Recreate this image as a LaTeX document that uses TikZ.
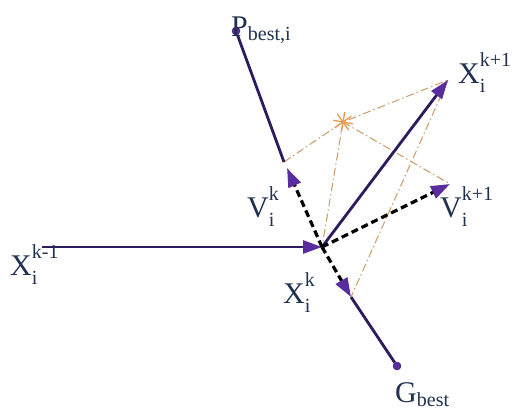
\documentclass[tikz,border=0pt]{standalone}
\usepackage{fontspec}
\setmainfont{Liberation Serif}
\usetikzlibrary{arrows.meta, calc}

\definecolor{vecdark}{HTML}{2E1A5E}
\definecolor{vectip}{HTML}{5A2D9E}
\definecolor{labtext}{HTML}{1F3050}
\definecolor{guidecol}{HTML}{C89A64}
\definecolor{starcol}{HTML}{E89A50}

\newcommand{\scr}{\fontsize{20}{20}\selectfont}
\newcommand{\pvec}[3]{#1\rlap{\raisebox{-0.33em}{\scr #2}}\raisebox{0.55em}{\scr #3}}

\tikzset{
  tip/.style={-{Triangle[length=19pt, width=13pt, color=vectip]}},
  vecline/.style={draw=vecdark, line width=2.8pt},
  dashvec/.style={draw=black, line width=3.2pt, dash pattern=on 7pt off 4pt},
  guide/.style={draw=guidecol, line width=1pt,
                dash pattern=on 8pt off 3pt on 1.5pt off 3pt},
  dot/.style={circle, fill=vectip, draw=vecdark, inner sep=0pt, minimum size=8pt},
  lab/.style={anchor=base west, inner sep=0pt, text=labtext,
              font=\fontsize{30}{30}\selectfont},
}

\begin{document}
\begin{tikzpicture}[x=1pt, y=-1pt]
  \useasboundingbox (0,0) rectangle (516,410);

  % points of the update
  \coordinate (O)     at (322,247);
  \coordinate (Xprev) at (42,247);
  \coordinate (Xnext) at (448,80);
  \coordinate (Vk)    at (287,168);
  \coordinate (Vnext) at (450,184);
  \coordinate (Xk)    at (351,297);
  \coordinate (A)     at (284,162);
  \coordinate (S)     at (343,122);
  \node[dot] (P) at (236,31) {};
  \node[dot] (G) at (397,366) {};

  % construction lines
  \draw[guide] (A) -- (S) -- (Xnext);
  \draw[guide] (S) -- (Vnext);
  \draw[guide] (S) -- (O);
  \draw[guide] (Xnext) -- (Xk);
  \foreach \a in {10,55,100,145}
    \draw[draw=starcol, line width=1.3pt] ($(S)+(\a:10)$) -- ($(S)+(\a+180:10)$);

  % vectors
  \draw[vecline] (P) -- (A);
  \draw[vecline] (Xk) -- (G);
  \draw[vecline, tip] (Xprev) -- (O);
  \draw[vecline, tip] (O) -- (Xnext);
  \draw[dashvec, tip] (O) -- (Vk);
  \draw[dashvec, tip] (O) -- (Vnext);
  \draw[dashvec, tip] (O) -- (Xk);

  % labels
  \node[lab] (lPbest) at (231,36)  {P\raisebox{-0.15em}{\scr best,i}};
  \node[lab] (lXnext) at (458,83)  {\pvec{X}{i}{k+1}};
  \node[lab] (lVk)    at (247,217) {\pvec{V}{i}{k}};
  \node[lab] (lVnext) at (440,217) {\pvec{V}{i}{k+1}};
  \node[lab] (lXprev) at (10,275)  {\pvec{X}{i}{k-1}};
  \node[lab] (lXk)    at (283,303) {\pvec{X}{i}{k}};
  \node[lab] (lGbest) at (395,402) {G\raisebox{-0.15em}{\scr best}};
\end{tikzpicture}
\end{document}
